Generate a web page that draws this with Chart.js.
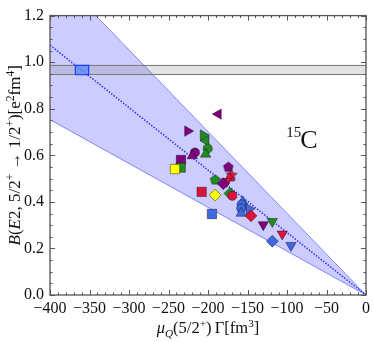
<!DOCTYPE html>
<html>
<head>
<meta charset="utf-8">
<script src="https://cdn.jsdelivr.net/npm/chart.js@4/dist/chart.umd.min.js"></script>
<style>
  body { margin: 0; background: #fff; }
  canvas { display: block; }
</style>
</head>
<body>
<canvas id="chart" width="374" height="342"></canvas>
<script>
// measured points: mu_Q(5/2+) Gamma [fm^3] vs B(E2) [e^2 fm^4]
const muQ = [-187, -225.7, -206, -202.5, -200.4, -203, -216.5, -219.9, -234.2, -234.6,
  -241.8, -174.3, -191, -170, -173, -176.3, -180.6, -208, -191, -172.2,
  -169.2, -195, -156, -157.4, -158, -158, -148, -145.6, -130, -118.6,
  -106, -118.6, -95];
const bE2 = [0.777, 0.704, 0.687, 0.662, 0.629, 0.605, 0.612, 0.598, 0.580, 0.547,
  0.541, 0.550, 0.495, 0.516, 0.502, 0.488, 0.478, 0.443, 0.429, 0.436,
  0.426, 0.348, 0.400, 0.389, 0.372, 0.351, 0.370, 0.340, 0.302, 0.316,
  0.262, 0.231, 0.213];
const pointColor = ["purple", "purple", "green", "green", "green", "green", "purple", "purple", "purple", "green",
  "yellow", "purple", "green", "red", "red", "red", "purple", "red", "yellow", "green",
  "red", "blue", "blue", "blue", "blue", "blue", "blue", "red", "purple", "green",
  "red", "blue", "blue"];
const pointShape = ["triLeft", "triRight", "triRight", "triLeft", "circle", "triUp", "circle", "triUp", "square", "square",
  "square", "pentagon", "pentagon", "star", "triUp", "triDown", "diamond", "square", "diamond", "diamond",
  "circle", "square", "triUp", "circle", "circle", "triUp", "triRight", "diamond", "triDown", "triDown",
  "triDown", "diamond", "triDown"];

// band and reference lines
const lineX = [-400, 0];
const upperY = [1.404, 0];
const centerY = [1.073, 0];
const lowerY = [0.753, 0];
const expLow = 0.947;
const expHigh = 0.986;
const boxX = [-368, -351];
const boxY = [0.946, 0.986];

const xTicks = [-400, -350, -300, -250, -200, -150, -100, -50, 0];
const yTicks = [0, 0.2, 0.4, 0.6, 0.8, 1.0, 1.2];

const colors = {
  purple: "#800080", green: "#228B22", red: "#DC143C",
  blue: "#4169E1", yellow: "#FFFF00"
};
const edge = "rgba(0,0,0,0.4)";
const serif = "'Liberation Serif', 'DejaVu Serif', serif";

function makeMarker(shape, color) {
  const c = document.createElement("canvas");
  c.width = 13; c.height = 13;
  const g = c.getContext("2d");
  const n = shape === "pentagon" ? 5 : 10;
  g.beginPath();
  for (let i = 0; i < n; i++) {
    const r = shape === "pentagon" ? 5.2 : (i % 2 ? 2.5 : 6);
    const a = -Math.PI / 2 + i * 2 * Math.PI / n;
    g.lineTo(6.5 + r * Math.cos(a), 6.8 + r * Math.sin(a));
  }
  g.closePath();
  g.fillStyle = color;
  g.fill();
  g.strokeStyle = edge;
  g.lineWidth = 1;
  g.stroke();
  return c;
}

const styleOf = {
  circle: { style: "circle", rot: 0, r: 4.6 },
  square: { style: "rect", rot: 0, r: 6.6 },
  diamond: { style: "rectRot", rot: 0, r: 6 },
  triUp: { style: "triangle", rot: 0, r: 6 },
  triDown: { style: "triangle", rot: 180, r: 6 },
  triLeft: { style: "triangle", rot: 270, r: 6 },
  triRight: { style: "triangle", rot: 90, r: 6 }
};

const pts = muQ.map((x, i) => ({ x: x, y: bE2[i] }));
const pStyles = pointShape.map((s, i) =>
  styleOf[s] ? styleOf[s].style : makeMarker(s, colors[pointColor[i]]));
const pRot = pointShape.map(s => styleOf[s] ? styleOf[s].rot : 0);
const pRad = pointShape.map(s => styleOf[s] ? styleOf[s].r : 6);
const pFill = pointColor.map(c => colors[c]);

function seg(xs, ys) {
  return xs.map((x, i) => ({ x: x, y: ys[i] }));
}

const boxPts = [
  { x: boxX[0], y: boxY[0] }, { x: boxX[1], y: boxY[0] },
  { x: boxX[1], y: boxY[1] }, { x: boxX[0], y: boxY[1] },
  { x: boxX[0], y: boxY[0] }
];

function drawRich(ctx, parts, size, cx, baseY) {
  const fontOf = p => (p.it ? "italic " : "") + (p.sup || p.sub ? size * 0.68 : size) + "px " + serif;
  let total = 0;
  parts.forEach(p => { ctx.font = fontOf(p); total += ctx.measureText(p.t).width; });
  let x = cx - total / 2;
  parts.forEach(p => {
    ctx.font = fontOf(p);
    const dy = p.sup ? -size * 0.38 : (p.sub ? size * 0.22 : 0);
    ctx.fillText(p.t, x, baseY + dy);
    x += ctx.measureText(p.t).width;
  });
}

const decorations = {
  id: "decorations",
  afterDraw(chart) {
    const ctx = chart.ctx;
    const a = chart.chartArea;
    const xs = chart.scales.x;
    const ys = chart.scales.y;
    ctx.save();
    ctx.strokeStyle = "#555";
    ctx.lineWidth = 1;
    // inward ticks on all four sides
    ctx.beginPath();
    for (let v = -400; v <= 0; v += 10) {
      const px = Math.round(xs.getPixelForValue(v)) + 0.5;
      const len = v % 50 === 0 ? 5 : 2.5;
      ctx.moveTo(px, a.bottom); ctx.lineTo(px, a.bottom - len);
      ctx.moveTo(px, a.top); ctx.lineTo(px, a.top + len);
    }
    for (let k = 0; k <= 24; k++) {
      const py = Math.round(ys.getPixelForValue(k * 0.05)) + 0.5;
      const len = k % 4 === 0 ? 5 : 2.5;
      ctx.moveTo(a.left, py); ctx.lineTo(a.left + len, py);
      ctx.moveTo(a.right, py); ctx.lineTo(a.right - len, py);
    }
    ctx.stroke();
    ctx.lineWidth = 1.3;
    ctx.strokeRect(a.left, a.top, a.right - a.left, a.bottom - a.top);

    ctx.fillStyle = "#111";
    ctx.textBaseline = "alphabetic";
    // nucleus label
    const lx = xs.getPixelForValue(-101);
    const ly = ys.getPixelForValue(0.632);
    ctx.font = "15px " + serif;
    ctx.fillText("15", lx, ly - 11);
    ctx.font = "26px " + serif;
    ctx.fillText("C", lx + 14, ly);

    // x title
    drawRich(ctx, [
      { t: "μ", it: true }, { t: "Q", it: true, sub: true }, { t: "(5/2" }, { t: "+", sup: true },
      { t: ")\u2009Γ[fm" }, { t: "3", sup: true }, { t: "]" }
    ], 16.5, (a.left + a.right) / 2, 333);

    // y title
    ctx.translate(20, (a.top + a.bottom) / 2);
    ctx.rotate(-Math.PI / 2);
    drawRich(ctx, [
      { t: "B", it: true }, { t: "(" }, { t: "E", it: true }, { t: "2, 5/2" }, { t: "+", sup: true },
      { t: " → 1/2" }, { t: "+", sup: true }, { t: ")[e" }, { t: "2", sup: true },
      { t: "fm" }, { t: "4", sup: true }, { t: "]" }
    ], 17, 0, 0);
    ctx.restore();
  }
};

new Chart(document.getElementById("chart"), {
  type: "scatter",
  data: {
    datasets: [
      {
        data: pts,
        pointStyle: pStyles,
        pointRotation: pRot,
        pointRadius: pRad,
        backgroundColor: pFill,
        borderColor: edge,
        borderWidth: 1
      },
      {
        data: boxPts,
        showLine: true,
        fill: "shape",
        backgroundColor: "rgba(100,140,255,0.8)",
        borderColor: "#1a3cff",
        borderWidth: 1.2,
        pointRadius: 0
      },
      {
        data: seg(lineX, centerY),
        showLine: true,
        borderColor: "rgba(40,40,255,0.9)",
        borderDash: [1.5, 1.5],
        borderWidth: 1.6,
        pointRadius: 0
      },
      {
        data: seg(lineX, [expHigh, expHigh]),
        showLine: true,
        fill: "+1",
        backgroundColor: "rgba(128,128,128,0.22)",
        borderColor: "#777",
        borderWidth: 1,
        pointRadius: 0
      },
      {
        data: seg(lineX, [expLow, expLow]),
        showLine: true,
        borderColor: "#777",
        borderWidth: 1,
        pointRadius: 0
      },
      {
        data: seg(lineX, upperY),
        showLine: true,
        fill: "+1",
        backgroundColor: "rgba(0,0,255,0.2)",
        borderColor: "rgba(60,60,255,0.55)",
        borderWidth: 1,
        pointRadius: 0
      },
      {
        data: seg(lineX, lowerY),
        showLine: true,
        borderColor: "rgba(60,60,255,0.55)",
        borderWidth: 1,
        pointRadius: 0
      }
    ]
  },
  options: {
    responsive: false,
    animation: false,
    layout: { padding: { top: 11, right: 8, left: 0, bottom: 0 } },
    plugins: {
      legend: { display: false },
      tooltip: { enabled: false }
    },
    scales: {
      x: {
        type: "linear",
        min: -400,
        max: 0,
        afterFit: s => { s.height = 47; },
        afterBuildTicks: s => { s.ticks = xTicks.map(v => ({ value: v })); },
        grid: { display: false, drawTicks: false },
        border: { display: false },
        ticks: {
          padding: 4,
          color: "#111",
          font: { family: serif, size: 16 },
          maxRotation: 0,
          autoSkip: false,
          callback: v => v < 0 ? "\u2212" + Math.abs(v) : String(v)
        }
      },
      y: {
        type: "linear",
        min: 0,
        max: 1.2,
        afterFit: s => { s.width = 50; },
        afterBuildTicks: s => { s.ticks = yTicks.map(v => ({ value: v })); },
        grid: { display: false, drawTicks: false },
        border: { display: false },
        ticks: {
          padding: 6,
          color: "#111",
          font: { family: serif, size: 16 },
          autoSkip: false,
          callback: v => v.toFixed(1)
        }
      }
    }
  },
  plugins: [decorations]
});
</script>
</body>
</html>
